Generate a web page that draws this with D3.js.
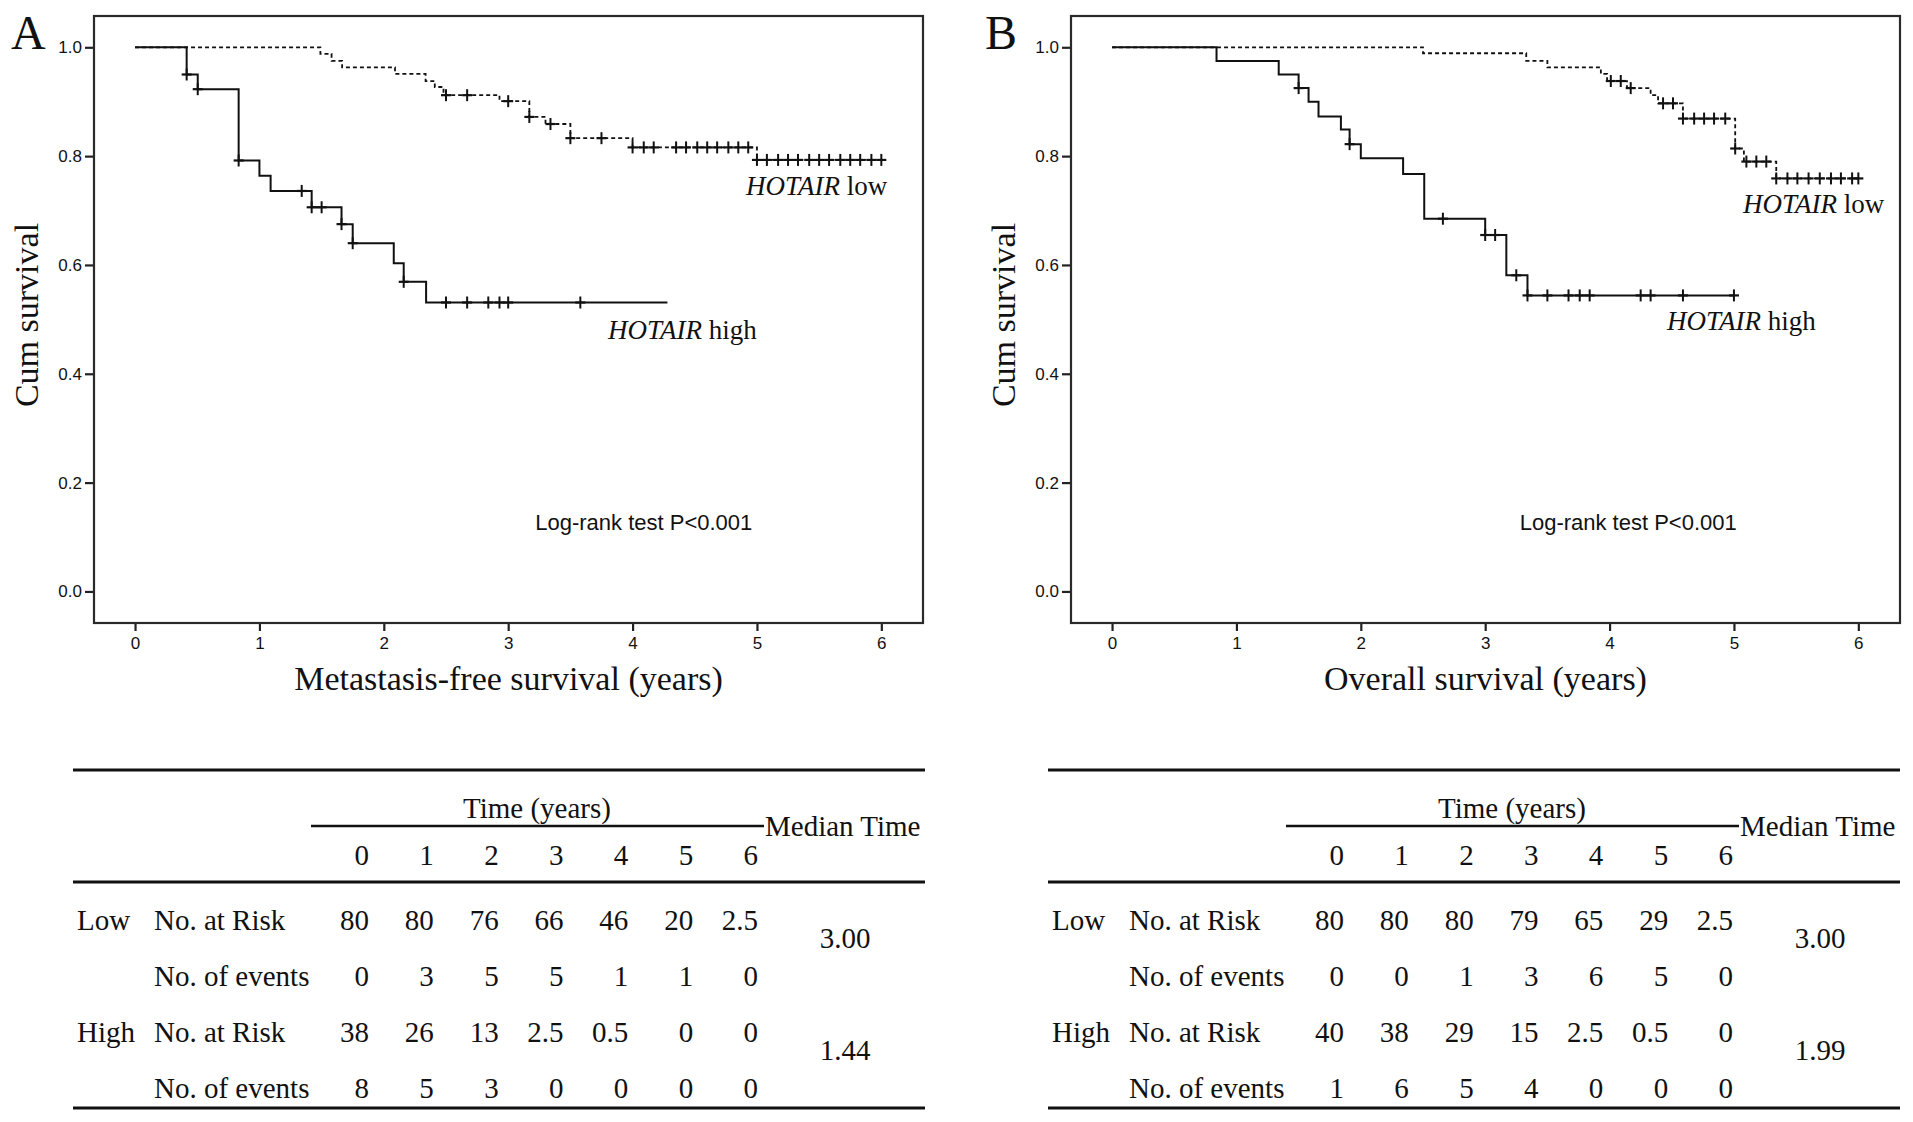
<!DOCTYPE html>
<html>
<head>
<meta charset="utf-8">
<script src="https://cdn.jsdelivr.net/npm/d3@7"></script>
<style>
body{margin:0;background:#fff;}
svg{display:block;}
</style>
</head>
<body>
<script>
// ---- data ----
const years=[0,1,2,3,4,5,6];
const yTicks=[0,0.2,0.4,0.6,0.8,1.0];

// panel A : metastasis-free survival, [time, survival] steps
const mfsHighSteps=[[0,1],[0.415,0.950],[0.504,0.923],[0.833,0.792],[1.0,0.764],[1.09,0.736],[1.42,0.706],[1.66,0.675],[1.75,0.640],[2.08,0.603],[2.16,0.569],[2.34,0.531]];
const mfsHighEnd=4.28;
const mfsHighCensor=[0.415,0.504,0.833,1.34,1.42,1.50,1.66,1.75,2.16,2.50,2.67,2.84,2.93,3.0,3.58];
const mfsLowSteps=[[0,1],[1.49,0.988],[1.58,0.975],[1.665,0.963],[2.09,0.951],[2.336,0.938],[2.41,0.927],[2.48,0.912],[2.93,0.901],[3.17,0.872],[3.30,0.859],[3.50,0.833],[4.0,0.816],[5.0,0.793]];
const mfsLowEnd=6.0;
const mfsLowCensor=[2.50,2.67,3.0,3.17,3.34,3.50,3.75,4.0,4.09,4.17,4.35,4.43,4.52,4.60,4.68,4.77,4.85,4.93,5.0,5.08,5.17,5.25,5.33,5.42,5.5,5.58,5.67,5.75,5.83,5.92,6.0];

// panel B : overall survival
const osHighSteps=[[0,1],[0.84,0.975],[1.34,0.950],[1.50,0.925],[1.58,0.900],[1.66,0.873],[1.84,0.849],[1.91,0.822],[2.0,0.796],[2.34,0.767],[2.51,0.685],[3.0,0.655],[3.17,0.581],[3.34,0.544]];
const osHighEnd=5.0;
const osHighCensor=[1.50,1.91,2.66,3.0,3.08,3.25,3.34,3.50,3.67,3.76,3.84,4.25,4.33,4.59,5.0];
const osLowSteps=[[0,1],[2.50,0.989],[3.33,0.975],[3.50,0.963],[3.93,0.951],[3.98,0.938],[4.14,0.925],[4.33,0.912],[4.39,0.897],[4.59,0.869],[5.01,0.814],[5.08,0.790],[5.34,0.759]];
const osLowEnd=6.0;
const osLowCensor=[4.01,4.09,4.17,4.43,4.51,4.59,4.68,4.76,4.84,4.93,5.01,5.10,5.18,5.26,5.34,5.43,5.51,5.60,5.69,5.78,5.86,5.95,6.0];

// risk tables
const riskLowA=["80","80","76","66","46","20","2.5"];
const eventsLowA=["0","3","5","5","1","1","0"];
const riskHighA=["38","26","13","2.5","0.5","0","0"];
const eventsHighA=["8","5","3","0","0","0","0"];
const medianA=["3.00","1.44"];
const riskLowB=["80","80","80","79","65","29","2.5"];
const eventsLowB=["0","0","1","3","6","5","0"];
const riskHighB=["40","38","29","15","2.5","0.5","0"];
const eventsHighB=["1","6","5","4","0","0","0"];
const medianB=["3.00","1.99"];

const w=1913, h=1122;
const serif="'Liberation Serif','Times New Roman',serif";
const sans="'Liberation Sans',Arial,sans-serif";

const svg=d3.select("body").append("svg")
    .attr("width",w).attr("height",h)
    .style("background-color","#fff");

// value of a step function at time t
function survAt(steps,t){
    let v=steps[0][1];
    steps.forEach(s=>{ if(s[0]<=t) v=s[1]; });
    return v;
}

function drawPanel(opt){
    const left=opt.left, right=opt.left+829, top=16, bottom=623;
    const x=d3.scaleLinear().domain([-0.33,6.335]).range([left,right]);
    const y=d3.scaleLinear().domain([-0.058,1.0575]).range([bottom,top]);
    const g=svg.append("g");

    // axes
    const yAxis=d3.axisLeft(y).tickValues(yTicks).tickSize(9).tickPadding(3).tickFormat(d3.format(".1f"));
    const xAxis=d3.axisBottom(x).tickValues(years).tickSize(8).tickPadding(6).tickFormat(d3.format("d"));
    const ga=g.append("g").attr("transform","translate("+left+",0)").call(yAxis);
    const gb=g.append("g").attr("transform","translate(0,"+bottom+")").call(xAxis);
    [ga,gb].forEach(a=>{
        a.select(".domain").remove();
        a.selectAll("line").attr("stroke","#222").attr("stroke-width",2.2);
        a.selectAll("text").attr("font-family",sans).attr("font-size",17).attr("fill","#111");
    });

    // frame
    g.append("rect").attr("x",left).attr("y",top).attr("width",right-left).attr("height",bottom-top)
        .attr("fill","none").attr("stroke","#2a2a2a").attr("stroke-width",2.2);

    // curves
    const line=d3.line().x(d=>x(d[0])).y(d=>y(d[1])).curve(d3.curveStepAfter);
    opt.curves.forEach(c=>{
        const pts=c.steps.concat([[c.end,c.steps[c.steps.length-1][1]]]);
        g.append("path").datum(pts).attr("d",line)
            .attr("fill","none").attr("stroke","#111")
            .attr("stroke-width",c.dash?1.8:2)
            .attr("stroke-dasharray",c.dash?"4,3":null);
        const marks=g.append("g").selectAll("g").data(c.censor).enter().append("g")
            .attr("transform",d=>"translate("+x(d)+","+y(survAt(c.steps,d))+")");
        marks.append("line").attr("x1",0).attr("x2",0).attr("y1",-6).attr("y2",6)
            .attr("stroke","#111").attr("stroke-width",2);
        marks.append("line").attr("x1",-5).attr("x2",5).attr("y1",0).attr("y2",0)
            .attr("stroke","#111").attr("stroke-width",2.2);
    });

    // labels
    g.append("text").attr("x",opt.letterX).attr("y",49).text(opt.letter)
        .attr("font-family",serif).attr("font-size",48).attr("fill","#111");
    g.append("text").attr("transform","translate("+(left-68)+",315) rotate(-90)")
        .attr("text-anchor","middle").attr("dominant-baseline","central")
        .attr("font-family",serif).attr("font-size",34).attr("fill","#111").text("Cum survival");
    g.append("text").attr("x",(left+right)/2).attr("y",690).attr("text-anchor","middle")
        .attr("font-family",serif).attr("font-size",34).attr("fill","#111").text(opt.xTitle);
    g.append("text").attr("x",x(opt.logrank[0])).attr("y",522).attr("text-anchor","middle")
        .attr("dominant-baseline","central")
        .attr("font-family",sans).attr("font-size",22).attr("fill","#111").text("Log-rank test P<0.001");
    opt.groupLabels.forEach(l=>{
        const t=g.append("text").attr("x",l.x).attr("y",l.y)
            .attr("font-family",serif).attr("font-size",27).attr("fill","#111");
        t.append("tspan").attr("font-style","italic").text("HOTAIR");
        t.append("tspan").text(" "+l.name);
    });
}

drawPanel({left:94,letter:"A",letterX:11,xTitle:"Metastasis-free survival (years)",
    logrank:[4.09],
    groupLabels:[{x:746,y:195,name:"low"},{x:608,y:339,name:"high"}],
    curves:[{steps:mfsLowSteps,end:mfsLowEnd,censor:mfsLowCensor,dash:true},
            {steps:mfsHighSteps,end:mfsHighEnd,censor:mfsHighCensor,dash:false}]});
drawPanel({left:1071,letter:"B",letterX:985,xTitle:"Overall survival (years)",
    logrank:[4.15],
    groupLabels:[{x:1743,y:213,name:"low"},{x:1667,y:330,name:"high"}],
    curves:[{steps:osLowSteps,end:osLowEnd,censor:osLowCensor,dash:true},
            {steps:osHighSteps,end:osHighEnd,censor:osHighCensor,dash:false}]});

// risk tables
function drawTable(L,rows,median){
    const g=svg.append("g").attr("font-family",serif).attr("font-size",29).attr("fill","#111");
    const colX=d3.scaleLinear().domain([0,6]).range([L+296,L+685]);
    const rule=(x1,x2,yy,sw)=>g.append("line").attr("x1",x1).attr("x2",x2).attr("y1",yy).attr("y2",yy)
        .attr("stroke","#111").attr("stroke-width",sw);
    rule(L,L+852,770,3);
    rule(L+238,L+691,826,2.5);
    rule(L,L+852,882,3);
    rule(L,L+852,1108,3);
    g.append("text").attr("x",L+464).attr("y",818).attr("text-anchor","middle").text("Time (years)");
    g.append("text").attr("x",L+692).attr("y",836).text("Median Time");
    g.selectAll(".hdr").data(years).enter().append("text").attr("class","hdr")
        .attr("x",d=>colX(d)).attr("y",865).attr("text-anchor","end").text(d=>d);
    const rowY=[930,986,1042,1098];
    const rowNames=["No. at Risk","No. of events","No. at Risk","No. of events"];
    g.append("text").attr("x",L+4).attr("y",rowY[0]).text("Low");
    g.append("text").attr("x",L+4).attr("y",rowY[2]).text("High");
    rows.forEach((r,i)=>{
        g.append("text").attr("x",L+81).attr("y",rowY[i]).text(rowNames[i]);
        g.selectAll(".r"+i).data(r).enter().append("text").attr("class","r"+i)
            .attr("x",(d,j)=>colX(years[j])).attr("y",rowY[i]).attr("text-anchor","end").text(d=>d);
    });
    g.append("text").attr("x",L+772).attr("y",948).attr("text-anchor","middle").text(median[0]);
    g.append("text").attr("x",L+772).attr("y",1060).attr("text-anchor","middle").text(median[1]);
}
drawTable(73,[riskLowA,eventsLowA,riskHighA,eventsHighA],medianA);
drawTable(1048,[riskLowB,eventsLowB,riskHighB,eventsHighB],medianB);
</script>
</body>
</html>
